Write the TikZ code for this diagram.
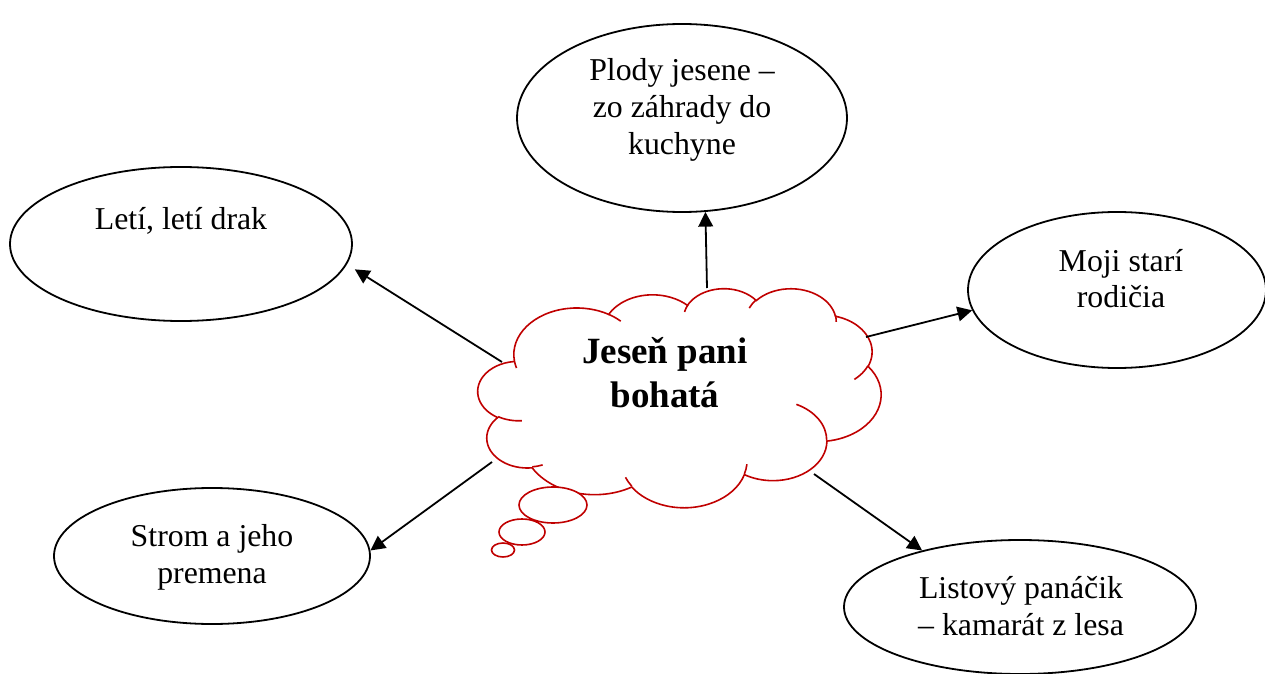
\documentclass[tikz,border=0pt]{standalone}
\usepackage{fontspec}
\setmainfont{Liberation Serif}
\usetikzlibrary{shapes.geometric,arrows.meta}
\newdimen\px \px=0.75pt
\definecolor{cloudred}{RGB}{192,0,0}
\newcommand\ovalfont{\fontsize{23.85}{27.75}\selectfont}
\newcommand\cloudfont{\fontsize{27.75}{33}\selectfont\bfseries}
\newcommand\lines[1]{\begin{tabular}[t]{@{}c@{}}#1\end{tabular}}
% elliptic arc as in DrawingML: #1 style name, #2 wR, #3 hR, #4 start angle, #5 sweep
\newcommand\defarc[5]{%
  \pgfmathsetmacro\arcsa{atan2((#2)*sin(#4),(#3)*cos(#4))}%
  \pgfmathsetmacro\arcsb{atan2((#2)*sin(#4+#5),(#3)*cos(#4+#5))}%
  \pgfmathsetmacro\arcsb{\arcsa+mod(\arcsb-\arcsa+720,360)}%
  \edef\arcstmp{\noexpand\tikzset{#1/.style={start angle=\arcsa, end angle=\arcsb, x radius=#2, y radius=#3}}}%
  \arcstmp}
\defarc{arcA}{67.53}{91.90}{-190.48748}{123.78053}
\defarc{arcB}{53.33}{72.67}{-144.10238}{89.94523}
\defarc{arcC}{43.65}{59.45}{-145.80792}{99.72302}
\defarc{arcD}{48.57}{65.95}{-130.98607}{117.24173}
\defarc{arcE}{53.33}{72.73}{-78.70888}{109.02692}
\defarc{arcF}{67.75}{92.20}{-46.26725}{130.269}
\defarc{arcG}{57.85}{78.67}{0.62502}{114.03333}
\defarc{arcH}{67.52}{92.15}{22.4516}{115.17255}
\defarc{arcI}{77.20}{105.43}{66.24263}{75.71102}
\defarc{arcJ}{43.60}{59.18}{-274.94208}{146.73557}
\defarc{arcK}{43.45}{59.45}{-246.8285}{152.51885}
\defarc{tickA}{43.45}{59.45}{86.742}{26.4295}
\defarc{tickB}{43.60}{59.18}{73.61047}{11.44747}
\defarc{tickC}{67.52}{92.15}{137.62415}{14.0811}
\defarc{tickD}{67.52}{92.15}{6.45327}{15.99835}
\defarc{tickE}{57.85}{78.67}{-70.29235}{70.91737}
\defarc{tickF}{53.33}{72.73}{30.31803}{27.7515}
\defarc{tickG}{48.57}{65.95}{-13.74433}{14.8589}
\defarc{tickH}{48.57}{65.95}{-149.18145}{18.19537}
\defarc{tickI}{43.65}{59.45}{-163.49427}{17.68635}
\defarc{tickJ}{67.53}{91.90}{-66.70695}{12.31935}
\defarc{tickK}{67.53}{91.90}{157.65435}{11.85817}
\begin{document}
\begin{tikzpicture}[x=0.75pt,y=-0.75pt,
  oval/.style={ellipse, draw, line width=1.35pt, inner sep=0pt},
  lbl/.style={anchor=base, inner sep=0pt, font=\ovalfont},
  arr/.style={line width=1.35pt, -{Triangle[length=11pt,width=11pt]}},
  cloudline/.style={draw=cloudred, line width=1.2pt}]
\useasboundingbox (0,0) rectangle (1265,674);
% thought cloud
\begin{scope}[shift={(478,288)}, xscale=403/432, yscale=219/432]
  \draw[cloudline, fill=white] (39,143.7)
    arc[arcA] arc[arcB] arc[arcC] arc[arcD] arc[arcE] arc[arcF]
    arc[arcG] arc[arcH] arc[arcI] arc[arcJ] arc[arcK] -- cycle;
  \draw[cloudline] (46.93,261.77) arc[tickA];
  \draw[cloudline] (69.28,348.99) arc[tickB];
  \draw[cloudline] (164.78,390.90) arc[tickC];
  \draw[cloudline] (288.27,347.51) arc[tickD];
  \draw[cloudline] (341.29,229.54) arc[tickE];
  \draw[cloudline] (417.98,153.54) arc[tickF];
  \draw[cloudline] (383.24,54.26) arc[tickG];
  \draw[cloudline] (290.78,39.52) arc[tickH];
  \draw[cloudline] (221.41,47.20) arc[tickI];
  \draw[cloudline] (140.00,51.92) arc[tickJ];
  \draw[cloudline] (41.27,157.89) arc[tickK];
\end{scope}
\draw[cloudline, fill=white] (553,505) ellipse[x radius=34, y radius=18];
\draw[cloudline, fill=white] (522,532) ellipse[x radius=23, y radius=13];
\draw[cloudline, fill=white] (503,550) ellipse[x radius=11.5, y radius=7];
\node[lbl, font=\cloudfont] (tc) at (665,363) {\lines{Jeseň pani\\bohatá}};
% ellipses
\node[oval, minimum width=342\px, minimum height=154\px] (e1) at (181,244) {};
\node[oval, minimum width=330\px, minimum height=188\px] (e2) at (682,118) {};
\node[oval, minimum width=298\px, minimum height=156\px] (e3) at (1117,290) {};
\node[oval, minimum width=316\px, minimum height=136\px] (e4) at (212,556) {};
\node[oval, minimum width=352\px, minimum height=134\px] (e5) at (1020,607) {};
\node[lbl] (t1) at (181,229) {\lines{Letí, letí drak}};
\node[lbl] (t2) at (682,81) {\lines{Plody jesene –\\zo záhrady do\\kuchyne}};
\node[lbl] (t3) at (1121,271) {\lines{Moji starí\\rodičia}};
\node[lbl] (t4) at (212,546) {\lines{Strom a jeho\\premena}};
\node[lbl] (t5) at (1021,598) {\lines{Listový panáčik\\– kamarát z lesa}};
% connectors
\coordinate (c1) at (502,362);
\coordinate (c2) at (707,288);
\coordinate (c3) at (866,337);
\coordinate (c4) at (492,462);
\coordinate (c5) at (814,474);
\draw[arr, shorten >=7pt] (c1) -- (e1.-7);
\draw[arr] (c2) -- (e2.-76);
\draw[arr] (c3) -- (e3.188);
\draw[arr] (c4) -- (e4.2);
\draw[arr] (c5) -- (e5.150);
\end{tikzpicture}
\end{document}
